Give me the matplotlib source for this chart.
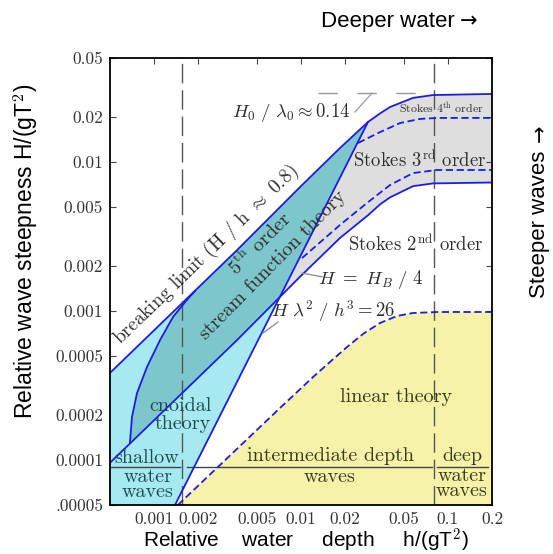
import matplotlib.pyplot as plt
from matplotlib.patches import Polygon
from matplotlib.ticker import FixedLocator, FixedFormatter, NullLocator

plt.rcParams['mathtext.fontset'] = 'cm'
plt.rcParams['axes.formatter.use_mathtext'] = True

# --- curves, (h/gT^2, H/gT^2) ---
breaking_x = [0.0005, 0.00367, 0.00984, 0.01845, 0.0286, 0.0345, 0.0404, 0.058, 0.0793, 0.2]
breaking_y = [0.000385, 0.00257, 0.0068, 0.01245, 0.0186, 0.0212, 0.02345, 0.027, 0.0282, 0.0287]

quarter_x = [0.0005, 0.00367, 0.00984, 0.01845, 0.0286, 0.0345, 0.0404, 0.058, 0.0793, 0.2]
quarter_y = [0.000096, 0.00064, 0.0017, 0.0031, 0.0044, 0.0052, 0.0058, 0.0069, 0.0072, 0.0073]

ursell_x = [0.001386, 0.0286]
ursell_y = [0.00005, 0.0186]

stream_x = [0.000684, 0.000706, 0.000764, 0.000893, 0.001096, 0.001344, 0.001672, 0.001897]
stream_y = [0.000132, 0.000195, 0.000282, 0.000422, 0.00064, 0.000914, 0.00119, 0.001366]

stokes34_x = [0.02446, 0.0345, 0.0473, 0.0647, 0.0845, 0.2]
stokes34_y = [0.01344, 0.0159, 0.0183, 0.0195, 0.0198, 0.0198]

stokes23_x = [0.01016, 0.01845, 0.02815, 0.0404, 0.058, 0.0845, 0.2]
stokes23_y = [0.00227, 0.00379, 0.00532, 0.00702, 0.00845, 0.00886, 0.00886]

linear_x = [0.00145, 0.0072, 0.01207, 0.01576, 0.0206, 0.02645, 0.0345, 0.0451, 0.058,
            0.0845, 0.2]
linear_y = [0.00005, 0.000224, 0.000361, 0.000456, 0.000575, 0.000703, 0.000832, 0.000928,
            0.000972, 0.000987, 0.000987]

shallow_limit = 0.00155
deep_limit = 0.08
divider_y = 0.00009
steep_limit_y = 0.0291

xticks = [0.001, 0.002, 0.005, 0.01, 0.02, 0.05, 0.1, 0.2]
xticklabels = ['0.001', '0.002', '0.005', '0.01', '0.02', '0.05', '0.1', '0.2']
yticks = [0.00005, 0.0001, 0.0002, 0.0005, 0.001, 0.002, 0.005, 0.01, 0.02, 0.05]
yticklabels = ['.00005', '0.0001', '0.0002', '0.0005', '0.001', '0.002', '0.005',
               '0.01', '0.02', '0.05']

XMIN, XMAX = 0.0005, 0.2
YMIN, YMAX = 0.00005, 0.05

BLUE = '#1c1ce8'
CYAN = '#a6e9f1'
TEAL = '#7dc7cc'
YELLOW = '#f6f2a8'
GRAY = '#dedede'
TXT = '#2e2e2e'
SERIF = 'cmr10'

fig = plt.figure(figsize=(5.53, 5.54), dpi=100)
ax = fig.add_axes([110 / 553, 1 - 505 / 554, 382 / 553, 447 / 554])
ax.set_xscale('log')
ax.set_yscale('log')
ax.set_xlim(XMIN, XMAX)
ax.set_ylim(YMIN, YMAX)

# ── filled regions ──
brk = list(zip(breaking_x, breaking_y))
qtr = list(zip(quarter_x, quarter_y))
stokes_band = Polygon(brk + qtr[::-1], closed=True, fc=GRAY, ec='none', zorder=1)
ax.add_patch(stokes_band)

cnoidal = Polygon([(XMIN, YMIN)] + brk[:5] + [(ursell_x[0], ursell_y[0])],
                  closed=True, fc=CYAN, ec='none', zorder=2)
ax.add_patch(cnoidal)

stream = Polygon(list(zip(stream_x, stream_y)) + brk[1:] + qtr[::-1][:-1],
                 closed=True, fc=TEAL, ec='none', zorder=3)
ax.add_patch(stream)
stream.set_clip_path(cnoidal)

linear = Polygon([(linear_x[0], YMIN)] + list(zip(linear_x, linear_y)) + [(XMAX, YMIN)],
                 closed=True, fc=YELLOW, ec='none', zorder=2)
ax.add_patch(linear)

# ── gray guide lines ──
for xv in (shallow_limit, deep_limit):
    ax.plot([xv, xv], [YMIN, YMAX], color='#555555', lw=1.0, dashes=(14, 5), zorder=4)
for x0, x1 in ((XMIN, 0.0015), (0.00167, 0.078), (0.0845, 0.188)):
    ax.plot([x0, x1], [divider_y, divider_y], color='#444444', lw=1.0, zorder=4)
ax.plot([0.01306, 0.0757], [steep_limit_y, steep_limit_y], color='#999999', lw=1.0,
        dashes=(14, 14), zorder=4)
ax.plot([0.0233, 0.0305], [0.0217, steep_limit_y], color='#999999', lw=0.9, zorder=4)
ax.plot([0.01016, 0.0139], [0.0018, 0.0017], color='#888888', lw=0.9, zorder=6)
ax.plot([0.00551, 0.00697], [0.000713, 0.000845], color='#888888', lw=0.9, zorder=6)

# ── blue boundaries ──
ax.plot(breaking_x, breaking_y, color=BLUE, lw=1.3, zorder=5)
ax.plot(quarter_x, quarter_y, color=BLUE, lw=1.3, zorder=5)
ax.plot(ursell_x, ursell_y, color=BLUE, lw=1.3, zorder=5)
ax.plot(stream_x, stream_y, color=BLUE, lw=1.3, zorder=5)
for xs, ys in ((stokes34_x, stokes34_y), (stokes23_x, stokes23_y), (linear_x, linear_y)):
    ax.plot(xs, ys, color=BLUE, lw=1.3, dashes=(4, 2), zorder=5)

# ── labels inside the diagram ──
def label(x, y, s, size=14.5, rot=0, **kw):
    ax.text(x, y, s, fontsize=size, rotation=rot, rotation_mode='anchor',
            ha='center', va='center', color=kw.pop('color', TXT),
            family=kw.pop('family', SERIF), zorder=7, **kw)

label(0.00226, 0.00240, r'breaking limit (H / h $\approx$ 0.8)', size=14, rot=44)
label(0.00526, 0.00282, r'5$^{\mathrm{th}}$ order', rot=45)
label(0.00645, 0.00204, 'stream function theory', rot=45.5)
label(0.00152, 0.000231, 'cnoidal', color='#1f4d4f')
label(0.00157, 0.000175, 'theory', color='#1f4d4f')
label(0.000893, 0.000103, 'shallow', color='#1f4d4f')
label(0.000907, 0.0000685, 'water\nwaves', color='#1f4d4f', linespacing=0.78)
label(0.01576, 0.0001066, 'intermediate depth', color='#3a3a1c')
label(0.01576, 0.000077, 'waves', color='#3a3a1c')
label(0.125, 0.0001066, 'deep', color='#3a3a1c')
label(0.125, 0.0000695, 'water\nwaves', color='#3a3a1c', linespacing=0.78)
label(0.0444, 0.000265, 'linear theory', color='#3a3a1c')
label(0.0608, 0.00282, r'Stokes 2$^{\mathrm{nd}}$ order', size=13.5)
label(0.0640, 0.01018, r'Stokes 3$^{\mathrm{rd}}$ order', size=13.5)
label(0.0899, 0.0231, r'Stokes 4$^{\mathrm{th}}$ order', size=8.5)
label(0.00855, 0.0214, r'$H_0\ /\ \lambda_0 \approx 0.14$', size=13.5)
label(0.030, 0.00162, r'$H\ =\ H_B\ /\ 4$', size=13.5)
label(0.01652, 0.001003, r'$H\ \lambda^2\ /\ h^3 = 26$', size=13.5)

# ── axes styling ──
ax.xaxis.set_major_locator(FixedLocator(xticks))
ax.xaxis.set_major_formatter(FixedFormatter(xticklabels))
ax.yaxis.set_major_locator(FixedLocator(yticks))
ax.yaxis.set_major_formatter(FixedFormatter(yticklabels))
ax.xaxis.set_minor_locator(NullLocator())
ax.yaxis.set_minor_locator(NullLocator())
ax.tick_params(which='major', direction='in', top=True, right=True, length=4.5,
               width=0.8, color='#444444', labelcolor='#333333', labelsize=12.5)
ax.tick_params(axis='x', pad=5)
ax.tick_params(axis='y', pad=5)
for lab in ax.get_xticklabels() + ax.get_yticklabels():
    lab.set_family(SERIF)
for sp in ax.spines.values():
    sp.set_linewidth(1.3)
    sp.set_zorder(8)

# ── outer annotations ──
SANS = ['Liberation Sans', 'DejaVu Sans']
fig.text(26 / 553, 1 - 251 / 554, 'Relative wave steepness H/(gT$^2$)', rotation=90,
         ha='center', va='center', fontsize=16.5, family=SANS)
fig.text(306 / 553, 1 - 541 / 554, 'Relative    water     depth     h/(gT$^2$)',
         ha='center', va='center', fontsize=15, family=SANS)
fig.text(321 / 553, 1 - 21 / 554, 'Deeper water', ha='left', va='center',
         fontsize=16, family=SANS)
fig.text(460 / 553, 1 - 21 / 554, '\u2192', ha='left', va='center',
         fontsize=15, family='DejaVu Sans')
fig.text(540 / 553, 1 - 298 / 554, 'Steeper waves', rotation=90, ha='center',
         va='bottom', fontsize=16, family=SANS)
fig.text(540 / 553, 1 - 142 / 554, '\u2192', rotation=90, ha='center',
         va='bottom', fontsize=15, family='DejaVu Sans')

fig.savefig('out.png', dpi=100)
